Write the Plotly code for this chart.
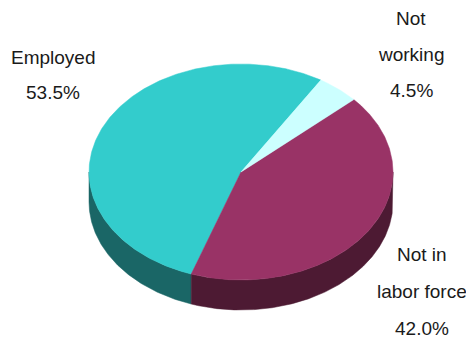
import numpy as np
import plotly.graph_objects as go

# ---- data ----
categories = ["Employed", "Not in labor force", "Not working"]
values = [53.5, 42.0, 4.5]
label_lines = [["Employed", "53.5%"], ["Not in", "labor force", "42.0%"], ["Not", "working", "4.5%"]]

# ---- style ----
top_colors = ["#33CCCC", "#993366", "#CCFFFF"]
side_colors = ["#1A6666", "#4D1A33", "#668080"]
label_pos = [(53, 57, 35), (422, 254, 37), (411, 18, 36)]  # x, y of first line, line spacing

W, H = 474, 339
OFF = 8  # page body margin offset
cx, cy, rx, ry, depth = 241, 172, 152, 108, 30
start_angle = 58.3

fig = go.Figure()


def arc(t0, t1, dy=0.0):
    n = max(int(abs(t1 - t0) * 2) + 2, 3)
    t = np.radians(np.linspace(t0, t1, n))
    return cx + rx * np.cos(t), cy - ry * np.sin(t) + dy


total = sum(values)
bounds = []
a = start_angle
for v in values:
    b = a + v / total * 360.0
    bounds.append((a, b))
    a = b

# sides (front half only)
for (a0, a1), col in zip(bounds, side_colors):
    for lo, hi in [(180, 360), (540, 720)]:
        s0, s1 = max(a0, lo), min(a1, hi)
        if s1 > s0:
            xt, yt = arc(s0, s1)
            xb, yb = arc(s1, s0, depth)
            xs = np.concatenate([xt, xb, xt[:1]])
            ys = np.concatenate([yt, yb, yt[:1]])
            fig.add_trace(go.Scatter(x=xs, y=ys, mode="lines", fill="toself",
                                     fillcolor=col, line=dict(color=col, width=0.5),
                                     hoverinfo="skip", showlegend=False))

# top faces
for (a0, a1), col, name in zip(bounds, top_colors, categories):
    xt, yt = arc(a0, a1)
    xs = np.concatenate([[cx], xt, [cx]])
    ys = np.concatenate([[cy], yt, [cy]])
    fig.add_trace(go.Scatter(x=xs, y=ys, mode="lines", fill="toself",
                             fillcolor=col, line=dict(color=col, width=0.5),
                             name=name, showlegend=False))

for lines, (lx, ly, sp) in zip(label_lines, label_pos):
    for i, txt in enumerate(lines):
        fig.add_annotation(x=lx, y=ly + i * sp, text=txt, showarrow=False,
                           xanchor="center", yanchor="middle",
                           font=dict(family="Liberation Sans, Arial, sans-serif", size=19, color="#1a1a1a"))

fig.update_layout(
    width=W - OFF, height=H - OFF,
    margin=dict(l=0, r=0, t=0, b=0),
    paper_bgcolor="white", plot_bgcolor="white",
    xaxis=dict(range=[OFF, W], visible=False, fixedrange=True),
    yaxis=dict(range=[H, OFF], visible=False, fixedrange=True),
)

fig.write_html("out.html")
